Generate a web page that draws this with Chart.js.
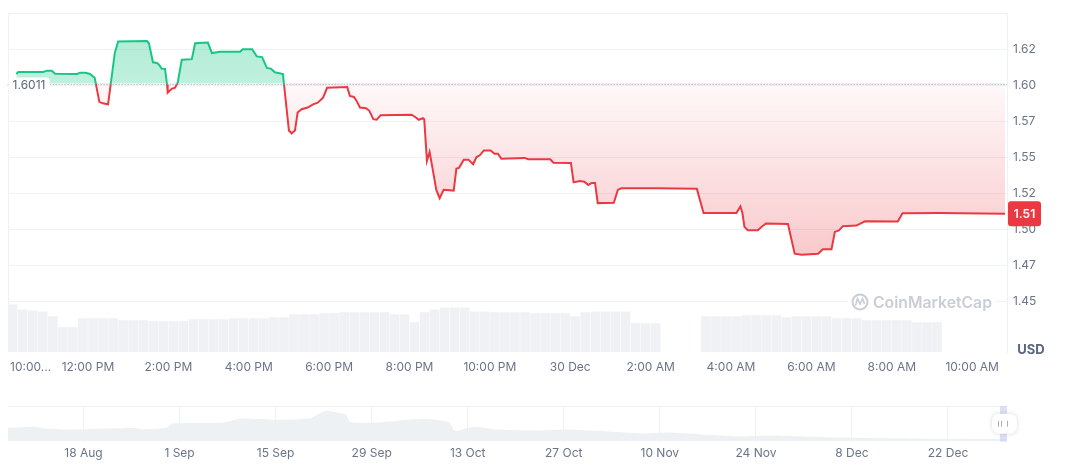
<!DOCTYPE html>
<html lang="en">
<head>
    <meta charset="UTF-8">
    <title>Price Chart</title>
    <script src="https://cdn.jsdelivr.net/npm/chart.js"></script>
    <style>
        html, body {
            margin: 0;
            padding: 0;
            background: #ffffff;
            overflow: hidden;
        }
        .main-wrap {
            position: relative;
            width: 1072px;
            height: 390px;
        }
        .nav-wrap {
            position: relative;
            width: 1072px;
            height: 80px;
        }
    </style>
</head>
<body>
    <div class="main-wrap"><canvas id="priceChart"></canvas></div>
    <div class="nav-wrap"><canvas id="navChart"></canvas></div>

    <script>
        // reference price for the period (dotted line)
        const baseline = 1.6011;

        // price, minutes after 29 Dec 10:00 AM
        const priceMinutes = [13, 16, 53, 59, 66, 71, 104, 108, 116, 123, 130, 137, 142, 150, 160, 165, 208, 211, 217, 223,
            226, 230, 235, 238, 239, 245, 250, 254, 260, 275, 280, 299, 305, 317, 347, 351, 365, 372, 380, 387,
            393, 399, 411, 420, 424, 429, 433, 439, 448, 456, 463, 471, 477, 507, 511, 517, 521, 526, 535, 540,
            546, 551, 557, 603, 608, 614, 620, 622, 626, 630, 634, 640, 645, 651, 666, 670, 674, 681, 688, 695,
            700, 705, 711, 721, 727, 732, 737, 772, 777, 810, 815, 841, 845, 854, 861, 867, 872, 877, 881, 905,
            911, 916, 969, 1029, 1039, 1088, 1094, 1097, 1100, 1105, 1120, 1125, 1132, 1165, 1175, 1185, 1210, 1217, 1230, 1235,
            1241, 1247, 1267, 1280, 1329, 1336, 1392, 1489];
        const prices = [1.6078, 1.6092, 1.6092, 1.6101, 1.6101, 1.6080, 1.6078, 1.6087, 1.6087, 1.6078, 1.6051, 1.5884, 1.5874, 1.5867, 1.6223, 1.6303, 1.6307, 1.6291, 1.6159, 1.6154,
            1.6142, 1.6115, 1.6113, 1.6005, 1.5948, 1.5975, 1.5982, 1.6017, 1.6177, 1.6181, 1.6291, 1.6296, 1.6223, 1.6232, 1.6232, 1.6250, 1.6250, 1.6200, 1.6195, 1.6120,
            1.6115, 1.6090, 1.6078, 1.5685, 1.5666, 1.5685, 1.5810, 1.5833, 1.5845, 1.5867, 1.5879, 1.5913, 1.5982, 1.5987, 1.5925, 1.5918, 1.5891, 1.5845, 1.5840, 1.5822,
            1.5764, 1.5760, 1.5792, 1.5795, 1.5781, 1.5760, 1.5771, 1.5764, 1.5474, 1.5536, 1.5433, 1.5273, 1.5215, 1.5273, 1.5268, 1.5421, 1.5426, 1.5483, 1.5483, 1.5451,
            1.5501, 1.5513, 1.5547, 1.5547, 1.5524, 1.5524, 1.5490, 1.5495, 1.5486, 1.5486, 1.5462, 1.5460, 1.5325, 1.5334, 1.5330, 1.5307, 1.5321, 1.5321, 1.5181, 1.5184,
            1.5273, 1.5284, 1.5284, 1.5280, 1.5112, 1.5112, 1.5158, 1.5112, 1.5016, 1.4993, 1.4993, 1.5014, 1.5039, 1.5036, 1.4830, 1.4823, 1.4830, 1.4861, 1.4861, 1.4981,
            1.4991, 1.5021, 1.5025, 1.5055, 1.5053, 1.5110, 1.5112, 1.5108];

        // volume (K USD) in 15 minute buckets from 10:00 AM, null = no data
        const volumeK = [48, 43, 42, 41, 36, 25, 25, 34, 34, 34, 34, 32, 32, 32, 31, 31, 31, 31, 33, 33,
            33, 33, 34, 34, 34, 34, 35, 35, 38, 38, 38, 39, 39, 40, 40, 40, 40, 40, 38, 38,
            30, 40, 43, 45, 45, 45, 41, 41, 40, 40, 40, 40, 39, 39, 39, 39, 36, 40, 41, 41,
            41, 41, 29, 29, 29, null, null, null, null, 36, 36, 36, 36, 37, 37, 37, 37, 35, 36, 36,
            36, 36, 34, 34, 34, 32, 32, 32, 32, 32, 30, 30, 30];

        const xTickMinutes = [0, 120, 240, 360, 480, 600, 720, 840, 960, 1080, 1200, 1320, 1440];
        const xTickLabels = ['10:00...', '12:00 PM', '2:00 PM', '4:00 PM', '6:00 PM', '8:00 PM', '10:00 PM',
            '30 Dec', '2:00 AM', '4:00 AM', '6:00 AM', '8:00 AM', '10:00 AM'];
        const yTickValues = [1.45, 1.475, 1.5, 1.525, 1.55, 1.575, 1.6, 1.625, 1.65];

        // overview strip, days after 18 Aug
        const navDays = [-11, -7.1, -5.5, -2, 2.9, 7.5, 8.4, 12, 13, 20.1, 21.1, 23, 28.1, 33.1, 34.1, 35.4, 36.9, 38.2, 38.9, 41.7,
            44.7, 47.2, 50.2, 53.2, 54.2, 55.7, 57.2, 60.2, 66.3, 70.1, 75.2, 81.7, 85.2, 95.3, 100.2, 110.3, 120.3, 133.4, 134.6];
        const navPrices = [1.762, 1.79, 1.75, 1.722, 1.75, 1.762, 1.734, 1.762, 1.866, 1.88, 1.914, 1.984, 1.956, 1.984, 2.072, 2.162, 2.122, 2.072, 1.90, 1.886,
            1.914, 1.956, 1.97, 1.90, 1.694, 1.75, 1.79, 1.728, 1.708, 1.728, 1.694, 1.638, 1.658, 1.57, 1.59, 1.542, 1.522, 1.508, 1.51];
        const navTickDays = [0, 14, 28, 42, 56, 70, 84, 98, 112, 126];
        const navTickLabels = ['18 Aug', '1 Sep', '15 Sep', '29 Sep', '13 Oct', '27 Oct', '10 Nov', '24 Nov', '8 Dec', '22 Dec'];

        const GREEN = '#16c784';
        const RED = '#ea3943';
        const GRID = '#eff2f5';
        const LABEL = '#6a7488';

        Chart.defaults.font.family = 'Inter, "Noto Sans", sans-serif';
        Chart.defaults.font.size = 12;
        Chart.defaults.color = LABEL;

        function roundRect(ctx, x, y, w, h, r) {
            ctx.beginPath();
            ctx.moveTo(x + r, y);
            ctx.arcTo(x + w, y, x + w, y + h, r);
            ctx.arcTo(x + w, y + h, x, y + h, r);
            ctx.arcTo(x, y + h, x, y, r);
            ctx.arcTo(x, y, x + w, y, r);
            ctx.closePath();
        }

        // fraction of the chart area height where the baseline sits
        function baseFrac(chart) {
            const a = chart.chartArea;
            return (chart.scales.y.getPixelForValue(baseline) - a.top) / (a.bottom - a.top);
        }

        const overlay = {
            id: 'overlay',
            afterDatasetsDraw(chart) {
                const { ctx, chartArea: a, scales: { x, y } } = chart;
                ctx.save();

                // left edge
                ctx.strokeStyle = GRID;
                ctx.lineWidth = 1;
                ctx.beginPath();
                ctx.moveTo(Math.round(a.left) + 0.5, a.top);
                ctx.lineTo(Math.round(a.left) + 0.5, a.bottom);
                ctx.stroke();

                // dotted baseline + label
                const yb = Math.round(y.getPixelForValue(baseline)) + 0.5;
                ctx.strokeStyle = '#9aa3b0';
                ctx.setLineDash([1, 2]);
                ctx.beginPath();
                ctx.moveTo(a.left, yb);
                ctx.lineTo(a.right, yb);
                ctx.stroke();
                ctx.setLineDash([]);
                ctx.fillStyle = '#ffffff';
                roundRect(ctx, a.left + 1, yb - 7, 41, 14, 3);
                ctx.fill();
                ctx.fillStyle = '#58667e';
                ctx.font = '12px Inter, sans-serif';
                ctx.textBaseline = 'middle';
                ctx.textAlign = 'left';
                ctx.fillText(baseline.toFixed(4), a.left + 5, yb + 1);

                // time labels
                ctx.fillStyle = LABEL;
                xTickMinutes.forEach((m, i) => {
                    const px = x.getPixelForValue(m);
                    ctx.textAlign = i === 0 ? 'left' : 'center';
                    ctx.fillText(xTickLabels[i], i === 0 ? px + 2.4 : px, a.bottom + 15);
                });

                // watermark
                ctx.fillStyle = '#ffffff';
                ctx.fillRect(848, 292, 148, 20);
                ctx.strokeStyle = '#c9ced6';
                ctx.lineWidth = 2;
                ctx.beginPath();
                ctx.arc(860, 302, 7.5, 0, Math.PI * 2);
                ctx.stroke();
                ctx.lineWidth = 1.6;
                ctx.beginPath();
                ctx.moveTo(855.5, 305.5);
                ctx.lineTo(857.5, 298.5);
                ctx.lineTo(860, 304);
                ctx.lineTo(862.5, 298.5);
                ctx.lineTo(864.5, 304);
                ctx.stroke();
                ctx.fillStyle = '#c9ced6';
                ctx.font = '600 16px Inter, sans-serif';
                const w = ctx.measureText('CoinMarketCap').width;
                ctx.font = '600 ' + (16 * 119 / w).toFixed(2) + 'px Inter, sans-serif';
                ctx.textAlign = 'left';
                ctx.fillText('CoinMarketCap', 873, 303);

                // last price badge
                const last = prices[prices.length - 1];
                const yl = y.getPixelForValue(last);
                ctx.fillStyle = RED;
                roundRect(ctx, a.right + 1, yl - 12.5, 33, 25, 3);
                ctx.fill();
                ctx.fillStyle = '#ffffff';
                ctx.font = '600 12px Inter, sans-serif';
                ctx.textAlign = 'center';
                ctx.fillText(last.toFixed(2), a.right + 17.5, yl + 0.5);

                // currency
                ctx.fillStyle = '#58667e';
                ctx.font = '700 13px Inter, sans-serif';
                ctx.fillText('USD', a.right + 24, a.bottom - 2);
                ctx.restore();
            }
        };

        new Chart(document.getElementById('priceChart'), {
            type: 'line',
            data: {
                datasets: [{
                    data: priceMinutes.map((m, i) => ({ x: m, y: prices[i] })),
                    order: 1,
                    borderWidth: 2,
                    pointRadius: 0,
                    tension: 0,
                    fill: { target: { value: baseline } },
                    borderColor: ctx => {
                        const chart = ctx.chart;
                        const a = chart.chartArea;
                        if (!a) return GREEN;
                        const f = baseFrac(chart);
                        const g = chart.ctx.createLinearGradient(0, a.top, 0, a.bottom);
                        g.addColorStop(0, GREEN);
                        g.addColorStop(f, GREEN);
                        g.addColorStop(f, RED);
                        g.addColorStop(1, RED);
                        return g;
                    },
                    backgroundColor: ctx => {
                        const chart = ctx.chart;
                        const a = chart.chartArea;
                        if (!a) return 'rgba(0,0,0,0)';
                        const f = baseFrac(chart);
                        const low = (chart.scales.y.getPixelForValue(Math.min(...prices)) - a.top) / (a.bottom - a.top);
                        const g = chart.ctx.createLinearGradient(0, a.top, 0, a.bottom);
                        g.addColorStop(0, 'rgba(22,199,132,0.36)');
                        g.addColorStop(f, 'rgba(22,199,132,0.27)');
                        g.addColorStop(f, 'rgba(234,57,67,0.03)');
                        g.addColorStop(low, 'rgba(234,57,67,0.27)');
                        g.addColorStop(1, 'rgba(234,57,67,0.27)');
                        return g;
                    }
                }, {
                    type: 'bar',
                    yAxisID: 'vol',
                    order: 2,
                    data: volumeK.map((v, i) => ({ x: i * 15 + 7.5, y: v })).filter(d => d.y !== null),
                    backgroundColor: '#eff1f5',
                    barPercentage: 0.96,
                    categoryPercentage: 1
                }]
            },
            options: {
                responsive: true,
                maintainAspectRatio: false,
                animation: false,
                layout: { padding: { left: 7.6, top: 10, right: 0, bottom: 38 } },
                plugins: { legend: { display: false }, tooltip: { enabled: false } },
                scales: {
                    x: { type: 'linear', min: 0, max: 1492, offset: false, display: false },
                    y: {
                        position: 'right',
                        min: 1.4147,
                        max: 1.65,
                        afterBuildTicks: s => { s.ticks = yTickValues.map(v => ({ value: v })); },
                        afterFit: s => { s.width = 65; },
                        grid: { color: GRID, drawTicks: false },
                        border: { display: true, color: GRID },
                        ticks: {
                            padding: 6,
                            color: LABEL,
                            callback: v => v >= 1.65 ? '' : (Math.floor(v * 100 + 1e-6) / 100).toFixed(2)
                        }
                    },
                    vol: { axis: 'y', position: 'left', display: false, min: 0, max: 342 }
                }
            },
            plugins: [overlay]
        });

        const navOverlay = {
            id: 'navOverlay',
            afterDraw(chart) {
                const { ctx, chartArea: a } = chart;
                ctx.save();
                ctx.strokeStyle = GRID;
                ctx.lineWidth = 1;
                ctx.beginPath();
                ctx.moveTo(a.left, Math.round(a.top) + 0.5);
                ctx.lineTo(a.right, Math.round(a.top) + 0.5);
                ctx.stroke();

                // range handle at the right end
                ctx.fillStyle = 'rgba(196,202,240,0.6)';
                ctx.fillRect(a.right - 7, a.top, 7, a.bottom - a.top);
                const cy = (a.top + a.bottom) / 2;
                ctx.shadowColor = 'rgba(88,102,126,0.25)';
                ctx.shadowBlur = 4;
                ctx.fillStyle = '#ffffff';
                roundRect(ctx, a.right - 15, cy - 10, 25, 20, 7);
                ctx.fill();
                ctx.shadowBlur = 0;
                ctx.strokeStyle = '#a6b0c3';
                ctx.lineWidth = 1;
                [a.right - 9.5, a.right - 6, a.right].forEach(px => {
                    ctx.beginPath();
                    ctx.moveTo(Math.round(px) + 0.5, cy - 3);
                    ctx.lineTo(Math.round(px) + 0.5, cy + 3);
                    ctx.stroke();
                });
                ctx.restore();
            }
        };

        new Chart(document.getElementById('navChart'), {
            type: 'line',
            data: {
                datasets: [{
                    data: navDays.map((d, i) => ({ x: d, y: navPrices[i] })),
                    borderWidth: 0,
                    borderColor: 'rgba(0,0,0,0)',
                    backgroundColor: '#eef1f4',
                    fill: 'start',
                    pointRadius: 0,
                    tension: 0.2
                }]
            },
            options: {
                responsive: true,
                maintainAspectRatio: false,
                animation: false,
                layout: { padding: { left: 8, right: 65, top: 16, bottom: 4 } },
                plugins: { legend: { display: false }, tooltip: { enabled: false } },
                scales: {
                    x: {
                        type: 'linear',
                        min: -11,
                        max: 134.6,
                        afterBuildTicks: s => { s.ticks = navTickDays.map(v => ({ value: v })); },
                        grid: { color: GRID, drawTicks: false },
                        border: { display: false },
                        ticks: {
                            padding: 5,
                            color: LABEL,
                            maxRotation: 0,
                            autoSkip: false,
                            callback: (v, i) => navTickLabels[i]
                        }
                    },
                    y: { display: false, min: 1.45, max: 2.27 }
                }
            },
            plugins: [navOverlay]
        });
    </script>
</body>
</html>
